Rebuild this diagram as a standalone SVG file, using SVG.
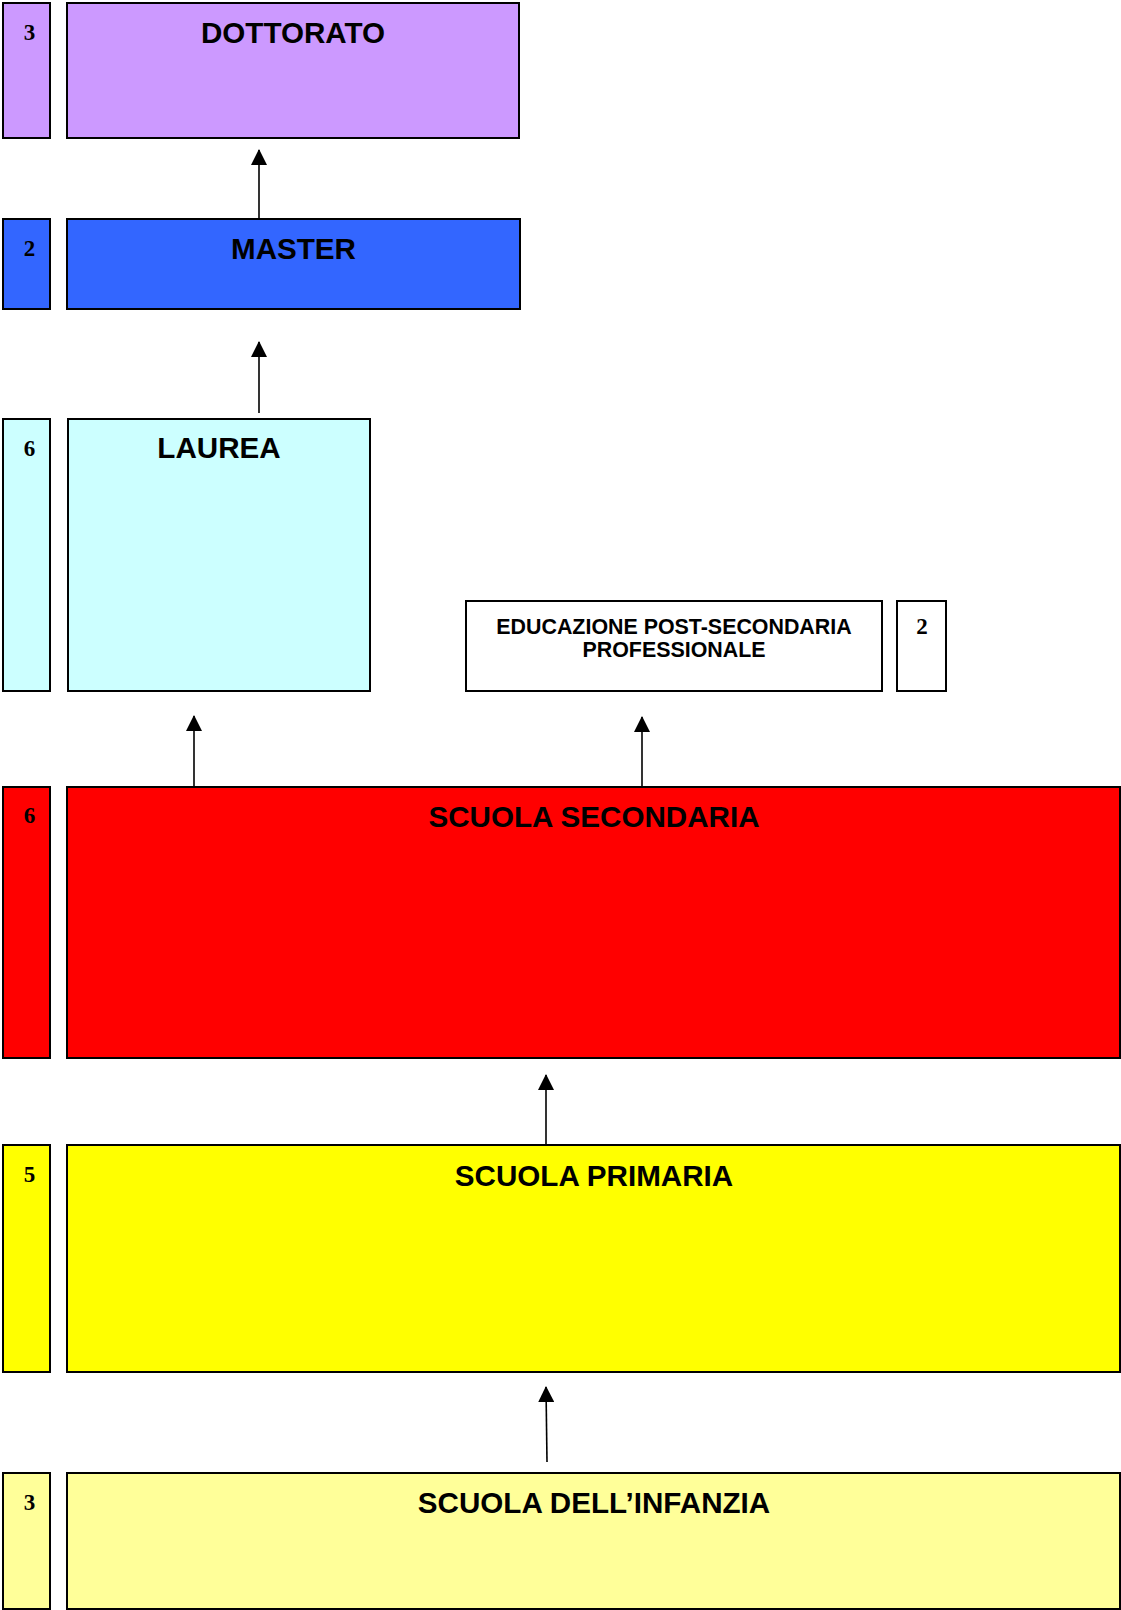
<svg xmlns="http://www.w3.org/2000/svg" width="1121" height="1610" viewBox="0 0 1121 1610">
<style>
rect{stroke:#000;stroke-width:2}
.t{font-family:"Liberation Sans",Arial,sans-serif;font-weight:bold;font-size:29.6px;text-anchor:middle;fill:#000}
.s{font-family:"Liberation Sans",Arial,sans-serif;font-weight:bold;font-size:21.4px;text-anchor:middle;fill:#000}
.n{font-family:"Liberation Serif","Times New Roman",serif;font-weight:bold;font-size:23px;text-anchor:middle;fill:#000}
.c line{stroke:#000;stroke-width:1.6}
</style>
<defs>
<marker id="ah" markerUnits="userSpaceOnUse" markerWidth="16" markerHeight="16" refX="15" refY="8" orient="auto">
<path d="M0,0 L16,8 L0,16 z" fill="#000"/>
</marker>
</defs>
<g id="dottorato">
<rect x="3" y="3" width="47" height="135" fill="#CC99FF"/>
<rect x="67" y="3" width="452" height="135" fill="#CC99FF"/>
<text class="n" x="29.5" y="40">3</text>
<text class="t" x="293" y="43">DOTTORATO</text>
</g>
<g id="master">
<rect x="3" y="219" width="47" height="90" fill="#3366FF"/>
<rect x="67" y="219" width="453" height="90" fill="#3366FF"/>
<text class="n" x="29.5" y="256">2</text>
<text class="t" x="293.5" y="259">MASTER</text>
</g>
<g id="laurea">
<rect x="3" y="419" width="47" height="272" fill="#CCFFFF"/>
<rect x="68" y="419" width="302" height="272" fill="#CCFFFF"/>
<text class="n" x="29.5" y="456">6</text>
<text class="t" x="219" y="458">LAUREA</text>
</g>
<g id="post-secondaria">
<rect x="466" y="601" width="416" height="90" fill="#fff"/>
<rect x="897" y="601" width="49" height="90" fill="#fff"/>
<text class="s" x="674" y="634">EDUCAZIONE POST-SECONDARIA</text>
<text class="s" x="674" y="657">PROFESSIONALE</text>
<text class="n" x="922" y="634">2</text>
</g>
<g id="secondaria">
<rect x="3" y="787" width="47" height="271" fill="#FF0000"/>
<rect x="67" y="787" width="1053" height="271" fill="#FF0000"/>
<text class="n" x="29.5" y="823">6</text>
<text class="t" x="594" y="827">SCUOLA SECONDARIA</text>
</g>
<g id="primaria">
<rect x="3" y="1145" width="47" height="227" fill="#FFFF00"/>
<rect x="67" y="1145" width="1053" height="227" fill="#FFFF00"/>
<text class="n" x="29.5" y="1182">5</text>
<text class="t" x="594" y="1186">SCUOLA PRIMARIA</text>
</g>
<g id="infanzia">
<rect x="3" y="1473" width="47" height="136" fill="#FFFF99"/>
<rect x="67" y="1473" width="1053" height="136" fill="#FFFF99"/>
<text class="n" x="29.5" y="1510">3</text>
<text class="t" x="594" y="1513">SCUOLA DELL’INFANZIA</text>
</g>
<g id="connectors" class="c">
<line x1="259" y1="219" x2="259" y2="150" marker-end="url(#ah)"/>
<line x1="259" y1="413" x2="259" y2="342" marker-end="url(#ah)"/>
<line x1="194" y1="786" x2="194" y2="716" marker-end="url(#ah)"/>
<line x1="642" y1="786" x2="642" y2="717" marker-end="url(#ah)"/>
<line x1="546" y1="1144" x2="546" y2="1075" marker-end="url(#ah)"/>
<line x1="547" y1="1462" x2="546" y2="1387" marker-end="url(#ah)"/>
</g>
</svg>
